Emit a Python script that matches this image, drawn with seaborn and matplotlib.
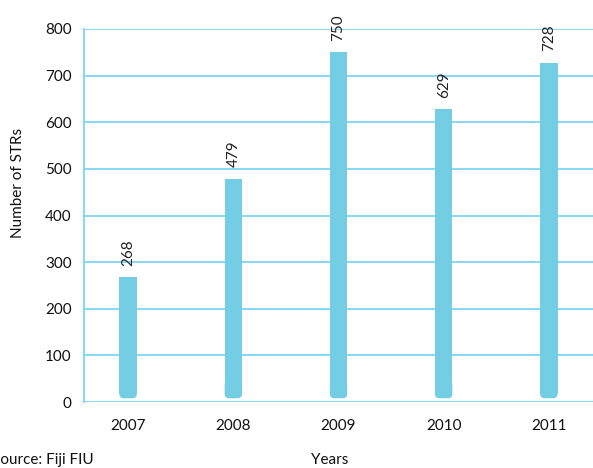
import matplotlib
matplotlib.use("Agg")
import matplotlib.pyplot as plt
from matplotlib.patches import FancyBboxPatch
import seaborn as sns
import pandas as pd

years = ["2007", "2008", "2009", "2010", "2011"]
strs = [268, 479, 750, 629, 728]
yticks = [0, 100, 200, 300, 400, 500, 600, 700, 800]

sns.set_theme(style="white")
plt.rcParams['font.family'] = ['Lato', 'DejaVu Sans']

df = pd.DataFrame({"Year": years, "STRs": strs})

fig = plt.figure(figsize=(5.93, 4.68), dpi=100)
ax = fig.add_axes([84/593, 1 - 402/468, 1 - 84/593, 373/468])

grid_c = "#7dd4f4"
bar_c = "#73cee3"
for t in yticks:
    ax.axhline(t, color=grid_c, lw=1.3, zorder=0)

sns.barplot(data=df, x="Year", y="STRs", color=bar_c, width=0.165,
            saturation=1, ax=ax, zorder=2, linewidth=0, edgecolor="none")

ax.set_xlim(-0.42, 4.42)
ax.set_ylim(0, 800)

# rounded bottoms
fig.canvas.draw()
bb = ax.get_window_extent()
px_x = bb.width / (4.42 + 0.42)
px_y = bb.height / 800
r_px = 4.5
base = 8.0
for p in list(ax.patches):
    x0, w, h = p.get_x(), p.get_width(), p.get_height()
    ry = r_px / px_y
    rs = r_px / px_x
    p.set_y(base + ry)
    p.set_height(h - base - ry)
    cap = FancyBboxPatch((x0, base), w, 4 * ry,
                         boxstyle=f"round,pad=0,rounding_size={rs}",
                         mutation_aspect=px_x / px_y,
                         facecolor=bar_c, edgecolor="none", linewidth=0,
                         zorder=2)
    ax.add_patch(cap)

for i, v in enumerate(strs):
    ax.text(i, v + 24, str(v), rotation=90, ha="center", va="bottom",
            fontsize=11, color="#222222")

ax.set_yticks(yticks)
ax.set_xlabel("")
ax.set_ylabel("")
for s in ["top", "right", "bottom"]:
    ax.spines[s].set_visible(False)
ax.spines["left"].set_color(grid_c)
ax.spines["left"].set_linewidth(1.3)
ax.tick_params(axis="both", length=0, labelsize=11, colors="#111111")
ax.tick_params(axis="x", pad=12)
ax.tick_params(axis="y", pad=9)

fig.text(18/593, 1 - 183/468, "Number of STRs", rotation=90, ha="center",
         va="center", fontsize=11, color="#111111")
fig.text(-8/593, 1 - 460/468, "Source: Fiji FIU", ha="left", va="center",
         fontsize=11, color="#111111")
fig.text(330/593, 1 - 460/468, "Years", ha="center", va="center",
         fontsize=11, color="#111111")

fig.savefig("out.png", dpi=100)
